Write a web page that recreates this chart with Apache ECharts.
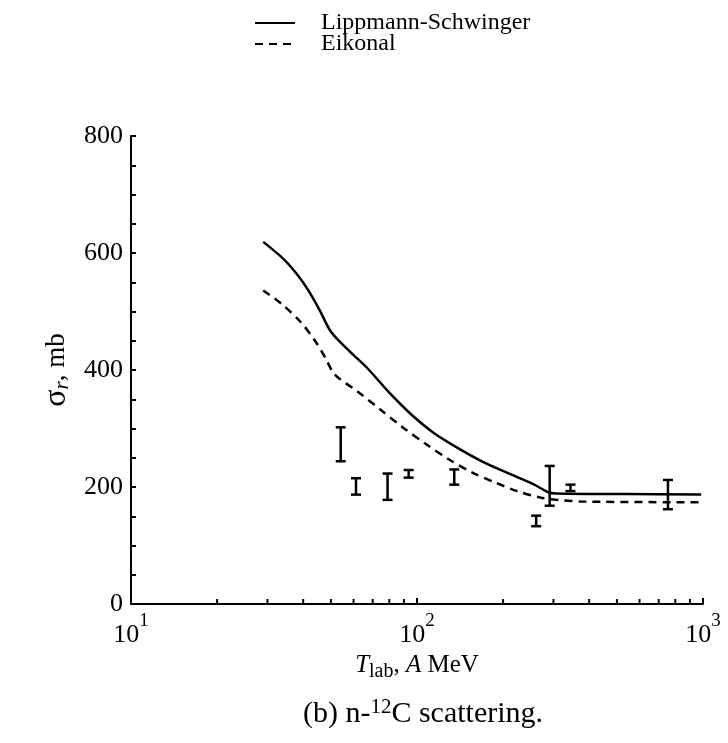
<!DOCTYPE html>
<html><head><meta charset="utf-8">
<script src="https://cdn.jsdelivr.net/npm/echarts@6/dist/echarts.min.js"></script>
<style>html,body{margin:0;padding:0;background:#fff}#c{width:728px;height:743px}</style>
</head><body><div id="c"></div>
<script>
// Lippmann-Schwinger (solid)
const lsT = [29, 34.1, 38, 41.7, 45.7, 50.1, 58.4, 67.1, 79.4, 95.5, 114.8, 142, 176.5, 212, 255, 288, 307, 533, 985];
const lsV = [619, 590, 564, 536, 502, 465, 431, 403, 363, 324, 292, 264, 239, 222, 205, 191, 189, 188, 187];
// Eikonal (dashed)
const ekT = [29, 33.6, 39.2, 44.3, 47.9, 51.6, 62.1, 74.6, 89.7, 107.8, 129.5, 155.6, 187, 224, 270, 307, 390, 985];
const ekV = [536, 513, 482, 448, 420, 392, 363, 332, 301, 273, 247, 225, 208, 193, 182, 178, 175, 174];
// Experimental data (error bars)
const expT = [54.1, 61.2, 78.9, 93.5, 135, 261, 291, 344, 754];
const expLo = [244, 187, 178, 216, 204, 133, 168, 193, 162];
const expHi = [302, 215, 223, 229, 230, 151, 236, 204, 212];
// x minor tick positions
const xMinorTicks = [20,30,40,50,60,70,80,90,200,300,400,500,600,700,800,900];

const FONT = '"Liberation Serif", "DejaVu Serif", serif';
const chart = echarts.init(document.getElementById('c'), null, {renderer: 'canvas'});
const zip = (a, b) => a.map((v, i) => [v, b[i]]);

chart.setOption({
  animation: false,
  backgroundColor: '#fff',
  textStyle: {fontFamily: FONT, color: '#000'},
  title: {
    text: '(b) n-{sup|12}C scattering.',
    left: 418, top: 692, textAlign: 'center',
    textStyle: {fontFamily: FONT, fontSize: 30, fontWeight: 'normal', color: '#000',
      rich: {sup: {fontFamily: FONT, fontSize: 21, verticalAlign: 'top', padding: [0,0,13,0], color: '#000'}}}
  },
  legend: {
    orient: 'vertical', left: 249, top: 6, itemWidth: 40, itemHeight: 14, itemGap: -3,
    itemStyle: {opacity: 0},
    textStyle: {fontFamily: FONT, fontSize: 24, color: '#000', padding: [0,0,0,21]},
    data: ['Lippmann-Schwinger', 'Eikonal']
  },
  grid: {left: 131, right: 25, top: 136, bottom: 139},
  xAxis: {
    type: 'log', logBase: 10, min: 10, max: 1000,
    name: '{i|T}{sub|lab}{n|, }{i|A}{n| MeV}',
    nameLocation: 'middle', nameGap: 38,
    nameTextStyle: {rich: {
      i: {fontFamily: FONT, fontSize: 25, fontStyle: 'italic', color: '#000'},
      n: {fontFamily: FONT, fontSize: 25, color: '#000'},
      sub: {fontFamily: FONT, fontSize: 20, color: '#000', verticalAlign: 'bottom', padding: [12,0,0,0]}
    }},
    axisLine: {lineStyle: {color: '#000', width: 2}},
    axisTick: {inside: true, length: 6, lineStyle: {color: '#000', width: 2}},
    splitLine: {show: false},
    axisLabel: {
      margin: 8,
      formatter: v => '{b|10}{s|' + Math.round(Math.log10(v)) + '}',
      rich: {
        b: {fontFamily: FONT, fontSize: 26, color: '#000', padding: [10,0,0,0]},
        s: {fontFamily: FONT, fontSize: 19, color: '#000', verticalAlign: 'top', padding: [0,0,6,0]}
      }
    }
  },
  yAxis: {
    type: 'value', min: 0, max: 800, interval: 200,
    name: '{g|σ}{r|r}{n|, mb}',
    nameLocation: 'middle', nameGap: 55, nameRotate: 90,
    nameTextStyle: {rich: {
      g: {fontFamily: FONT, fontSize: 32, color: '#000'},
      r: {fontFamily: FONT, fontSize: 21, fontStyle: 'italic', color: '#000', padding: [12,0,0,0]},
      n: {fontFamily: FONT, fontSize: 27, color: '#000'}
    }},
    axisLine: {show: true, lineStyle: {color: '#000', width: 2}},
    axisTick: {show: true, inside: true, length: 5, lineStyle: {color: '#000', width: 2}},
    minorTick: {show: true, splitNumber: 4, length: 5, lineStyle: {color: '#000', width: 2}},
    splitLine: {show: false},
    axisLabel: {fontFamily: FONT, fontSize: 26, color: '#000', margin: 8}
  },
  series: [
    {name: 'Lippmann-Schwinger', type: 'line', data: zip(lsT, lsV), symbol: 'none', smooth: 0.3,
     lineStyle: {color: '#000', width: 2.5}, itemStyle: {color: '#000'}},
    {name: 'Eikonal', type: 'line', data: zip(ekT, ekV), symbol: 'none', smooth: 0.3,
     lineStyle: {color: '#000', width: 2.5, type: [8, 6]}, itemStyle: {color: '#000'}},
    {name: 'exp', type: 'custom', data: expT.map((t, i) => [t, expLo[i], expHi[i]]),
     renderItem: (params, api) => {
       const lo = api.coord([api.value(0), api.value(1)]);
       const hi = api.coord([api.value(0), api.value(2)]);
       const w = 5;
       const st = {stroke: '#000', lineWidth: 2.5};
       return {type: 'group', children: [
         {type: 'line', shape: {x1: lo[0], y1: lo[1], x2: hi[0], y2: hi[1]}, style: st},
         {type: 'line', shape: {x1: lo[0]-w, y1: lo[1], x2: lo[0]+w, y2: lo[1]}, style: st},
         {type: 'line', shape: {x1: hi[0]-w, y1: hi[1], x2: hi[0]+w, y2: hi[1]}, style: st}
       ]};
     }},
    {name: 'xminor', type: 'custom', data: xMinorTicks.map(v => [v, 0]), silent: true,
     renderItem: (params, api) => {
       const p = api.coord([api.value(0), 0]);
       return {type: 'line', shape: {x1: p[0], y1: p[1], x2: p[0], y2: p[1]-5},
               style: {stroke: '#000', lineWidth: 2}};
     }}
  ]
});
</script></body></html>
